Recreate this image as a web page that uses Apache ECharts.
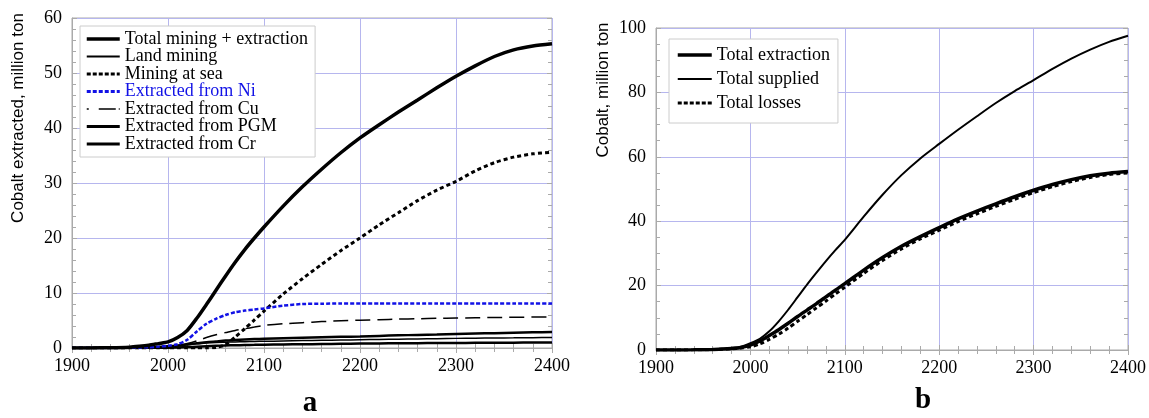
<!DOCTYPE html>
<html>
<head>
<meta charset="utf-8">
<script src="https://cdn.jsdelivr.net/npm/echarts@6/dist/echarts.min.js"></script>
<style>
html,body{margin:0;padding:0;background:#fff;}
#c{width:1149px;height:418px;}
</style>
</head>
<body>
<div id="c"></div>
<script>
// ---- data (years shared by all series) ----
const years = [1900,1920,1940,1960,1970,1980,1990,2000,2010,2020,2030,2040,2050,2060,2070,2080,2090,2100,2120,2140,2160,2180,2200,2220,2240,2260,2280,2300,2320,2340,2360,2380,2400];

// panel a
const totalMining = [0,0.02,0.05,0.15,0.3,0.5,0.8,1.1,1.9,3.2,5.4,7.9,10.5,13.1,15.6,17.9,20.0,22.0,25.8,29.3,32.5,35.5,38.2,40.6,42.9,45.1,47.3,49.4,51.3,53.0,54.2,54.9,55.3];
const landMining = [0,0.01,0.03,0.06,0.09,0.13,0.2,0.3,0.45,0.6,0.75,0.9,1.0,1.05,1.1,1.15,1.2,1.22,1.28,1.35,1.4,1.45,1.5,1.55,1.6,1.65,1.7,1.75,1.78,1.82,1.85,1.88,1.9];
const miningSea = [0,0,0,0,0,0,0,0,0,0,0,0,0.1,0.6,2.0,3.5,5.1,6.7,9.8,12.6,15.2,17.7,20.0,22.4,24.6,26.8,28.7,30.3,32.2,33.7,34.7,35.3,35.6];
const fromNi = [0,0,0.01,0.05,0.1,0.15,0.25,0.4,0.7,1.5,3.0,4.4,5.3,6.0,6.5,6.8,7.0,7.2,7.7,8.0,8.05,8.1,8.1,8.1,8.1,8.1,8.1,8.1,8.1,8.1,8.1,8.1,8.1];
const fromCu = [0,0,0,0.02,0.04,0.07,0.12,0.2,0.4,0.8,1.3,1.9,2.4,2.8,3.2,3.5,3.8,4.1,4.4,4.6,4.8,4.95,5.05,5.15,5.25,5.32,5.4,5.45,5.5,5.55,5.58,5.62,5.65];
const fromPGM = [0,0.01,0.02,0.05,0.08,0.12,0.2,0.3,0.45,0.65,0.85,1.05,1.2,1.35,1.45,1.55,1.62,1.68,1.78,1.87,1.95,2.03,2.1,2.2,2.3,2.38,2.46,2.55,2.63,2.7,2.78,2.85,2.9];
const fromCr = [0,0,0,0.01,0.02,0.03,0.04,0.06,0.1,0.16,0.24,0.32,0.4,0.46,0.5,0.54,0.57,0.6,0.64,0.68,0.72,0.76,0.8,0.83,0.86,0.88,0.9,0.92,0.94,0.96,0.97,0.99,1.0];

// panel b
const totalExtraction = [0,0.02,0.05,0.15,0.3,0.5,0.8,1.5,2.8,4.5,6.3,8.3,10.4,12.4,14.4,16.5,18.6,20.6,24.8,28.7,32.2,35.2,38.0,40.7,43.1,45.4,47.6,49.6,51.4,52.9,54.1,54.9,55.4];
const totalSupplied = [0,0.02,0.05,0.15,0.3,0.55,1.0,2.1,3.5,5.8,8.9,12.5,16.4,20.3,24.0,27.6,31.0,34.2,41.4,48.2,54.3,59.5,64.0,68.4,72.6,76.7,80.4,83.8,87.3,90.5,93.3,95.7,97.6];
const totalLosses = [0,0.01,0.04,0.12,0.25,0.4,0.6,1.0,1.9,3.3,4.9,6.8,8.9,11.0,13.1,15.2,17.4,19.5,23.8,27.8,31.4,34.5,37.2,39.9,42.3,44.6,46.8,48.9,50.7,52.3,53.6,54.5,55.0];

// ---- chart ----
const pts = arr => years.map((y,i)=>[y, arr[i]]);
const SERIF = 'Liberation Serif';
const SANS = 'Liberation Sans';
const GRIDC = '#b6b6ee';
const BORDER = '#aaaaaa';
const BLUE = '#1212e6';

function xAx(gi, top){
  return {type:'value', gridIndex:gi, min:1900, max:2400, interval:100, position: top?'top':'bottom',
    axisLine:{show:!top, lineStyle:{color:BORDER}},
    axisTick:{show:true, inside:true, length:5, lineStyle:{color:BORDER}},
    minorTick:{show:true, splitNumber:5, length:4, lineStyle:{color:BORDER}},
    axisLabel:{show:!top, margin:9, color:'#000', fontFamily:SERIF, fontSize:18, formatter: v => String(v)},
    splitLine:{show:!top, lineStyle:{color:GRIDC, width:1}},
    minorSplitLine:{show:false}};
}
function yAx(gi, max, itv, minor, right){
  return {type:'value', gridIndex:gi, min:0, max:max, interval:itv, position: right?'right':'left',
    axisLine:{show:!right, lineStyle:{color:BORDER}},
    axisTick:{show:true, inside:true, length:5, lineStyle:{color:BORDER}},
    minorTick:{show:true, splitNumber:minor, length:4, lineStyle:{color:BORDER}},
    axisLabel:{show:!right, margin:10, color:'#000', fontFamily:SERIF, fontSize:18, formatter: v => String(v)},
    splitLine:{show:!right, lineStyle:{color:GRIDC, width:1}}};
}
function line(name, data, xi, yi, color, width, type){
  return {name:name, type:'line', xAxisIndex:xi, yAxisIndex:yi, data:pts(data), symbol:'none',
    smooth:0.25, showSymbol:false,
    lineStyle:{color:color, width:width, type:type||'solid'}, itemStyle:{color:color}};
}

const option = {
  animation:false,
  backgroundColor:'#fff',
  grid:[
    {left:72, top:18, width:480, height:330, show:true, borderColor:BORDER, borderWidth:1, backgroundColor:'transparent'},
    {left:656, top:28, width:473, height:322, show:true, borderColor:BORDER, borderWidth:1, backgroundColor:'transparent'}
  ],
  xAxis:[xAx(0,false), xAx(0,true), xAx(1,false), xAx(1,true)],
  yAxis:[yAx(0,60,10,5,false), yAx(0,60,10,5,true), yAx(1,100,20,4,false), yAx(1,100,20,4,true)],
  legend:[
    {orient:'vertical', left:80, top:26, padding:[4,7,4,5], itemWidth:33, itemHeight:14, itemGap:-0.5,
     backgroundColor:'#fff', borderColor:'#cccccc', borderWidth:1, borderRadius:0,
     itemStyle:{opacity:0},
     textStyle:{fontFamily:SERIF, fontSize:18, color:'#000'},
     data:[
       {name:'Total mining + extraction', lineStyle:{width:3.5}},
       {name:'Land mining', lineStyle:{width:2}},
       {name:'Mining at sea', lineStyle:{width:3, type:[4,2]}},
       {name:'Extracted from Ni', textStyle:{color:BLUE}, lineStyle:{width:3, type:[4,2]}},
       {name:'Extracted from Cu', lineStyle:{width:1.5, type:[2,10,17,3]}},
       {name:'Extracted from PGM', lineStyle:{width:3}},
       {name:'Extracted from Cr', lineStyle:{width:3}}
     ]},
    {orient:'vertical', left:669, top:39, padding:[7,8,11,7], itemWidth:34, itemHeight:14, itemGap:6,
     backgroundColor:'#fff', borderColor:'#cccccc', borderWidth:1, borderRadius:0,
     itemStyle:{opacity:0},
     textStyle:{fontFamily:SERIF, fontSize:18, color:'#000'},
     data:[
       {name:'Total extraction', lineStyle:{width:3.5}},
       {name:'Total supplied', lineStyle:{width:2}},
       {name:'Total losses', lineStyle:{width:3, type:[4,2]}}
     ]}
  ],
  graphic:[
    {type:'text', x:18, y:118, rotation:Math.PI/2, style:{text:'Cobalt extracted, million ton', fontFamily:SANS, fontSize:17, fill:'#000', align:'center', verticalAlign:'middle'}},
    {type:'text', x:603, y:90, rotation:Math.PI/2, style:{text:'Cobalt, million ton', fontFamily:SANS, fontSize:17, fill:'#000', align:'center', verticalAlign:'middle'}},
    {type:'text', x:310, y:404, style:{text:'a', fontFamily:SERIF, fontWeight:'bold', fontSize:29, fill:'#000', align:'center', verticalAlign:'middle'}},
    {type:'text', x:923, y:401, style:{text:'b', fontFamily:SERIF, fontWeight:'bold', fontSize:29, fill:'#000', align:'center', verticalAlign:'middle'}}
  ],
  series:[
    line('Extracted from Cr', fromCr, 0, 0, '#000', 2.5),
    line('Extracted from PGM', fromPGM, 0, 0, '#000', 2.5),
    line('Land mining', landMining, 0, 0, '#000', 1.5),
    line('Extracted from Cu', fromCu, 0, 0, '#000', 1.5, [15,7]),
    line('Mining at sea', miningSea, 0, 0, '#000', 3, [4,3]),
    line('Extracted from Ni', fromNi, 0, 0, BLUE, 2.5, [4,2]),
    line('Total mining + extraction', totalMining, 0, 0, '#000', 3.5),
    line('Total losses', totalLosses, 2, 2, '#000', 3, [4,3]),
    line('Total extraction', totalExtraction, 2, 2, '#000', 3.5),
    line('Total supplied', totalSupplied, 2, 2, '#000', 2)
  ]
};
const chart = echarts.init(document.getElementById('c'), null, {renderer:'canvas'});
chart.setOption(option);
</script>
</body>
</html>
